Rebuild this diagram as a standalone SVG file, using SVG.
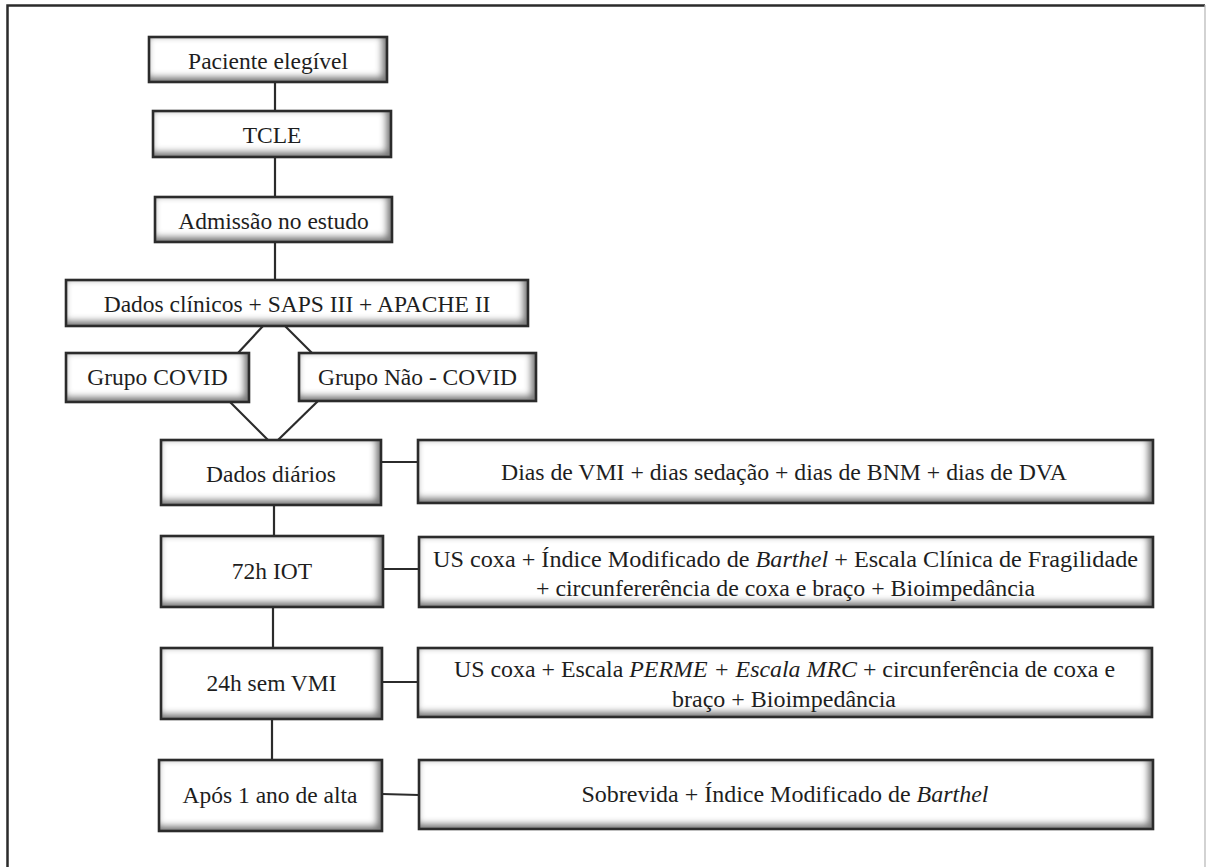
<svg xmlns="http://www.w3.org/2000/svg" width="1206" height="867" viewBox="0 0 1206 867">
<defs>
<filter id="bevel" x="0" y="0" width="1" height="1">
  <feOffset in="SourceAlpha" dx="-6" dy="-6" result="off"/>
  <feGaussianBlur in="off" stdDeviation="3" result="blur"/>
  <feComposite in="SourceAlpha" in2="blur" operator="out" result="edge"/>
  <feFlood flood-color="#7a7a7a"/>
  <feComposite in2="edge" operator="in" result="shade"/>
  <feMerge><feMergeNode in="SourceGraphic"/><feMergeNode in="shade"/></feMerge>
</filter>
</defs>
<style>
  .bg { fill: #ffffff; filter: url(#bevel); }
  .bd { fill: none; stroke: #2b2b2b; stroke-width: 2.6; }
  .t { font-family: "Liberation Serif", "Times New Roman", serif; font-size: 23.5px; fill: #1e1e1e; text-anchor: middle; }
  .r { font-size: 24px; }
  .i { font-style: italic; }
  .c line { stroke: #2b2b2b; stroke-width: 2.2; }
</style>
<rect x="0" y="0" width="1206" height="867" fill="#ffffff"/>
<path d="M7.5 867 V5.5 H1205" fill="none" stroke="#2b2b2b" stroke-width="2.5"/>
<line x1="1205" y1="5" x2="1205" y2="867" stroke="#b5b5b5" stroke-width="1.2"/>

<g id="connectors" class="c">
  <line x1="275" y1="82" x2="275" y2="111"/>
  <line x1="275" y1="157" x2="275" y2="197"/>
  <line x1="275" y1="242" x2="275" y2="280"/>
  <line x1="263" y1="326" x2="238" y2="353"/>
  <line x1="285" y1="326" x2="312" y2="353"/>
  <line x1="230" y1="402" x2="268" y2="440"/>
  <line x1="318" y1="401" x2="278" y2="440"/>
  <line x1="381" y1="462" x2="418" y2="462"/>
  <line x1="274" y1="505" x2="274" y2="536"/>
  <line x1="383" y1="569" x2="419" y2="569"/>
  <line x1="273" y1="607" x2="273" y2="648"/>
  <line x1="382" y1="682" x2="418" y2="682"/>
  <line x1="272" y1="719" x2="272" y2="760"/>
  <line x1="382" y1="794" x2="419" y2="795"/>
</g>

<g id="n-paciente">
  <rect class="bg" x="149" y="37" width="238" height="45"/>
  <rect class="bd" x="149" y="37" width="238" height="45"/>
  <text class="t" x="268" y="69">Paciente elegível</text>
</g>
<g id="n-tcle">
  <rect class="bg" x="153" y="111" width="238" height="46"/>
  <rect class="bd" x="153" y="111" width="238" height="46"/>
  <text class="t" x="272" y="143">TCLE</text>
</g>
<g id="n-admissao">
  <rect class="bg" x="155" y="197" width="237" height="45"/>
  <rect class="bd" x="155" y="197" width="237" height="45"/>
  <text class="t" x="273.5" y="229">Admissão no estudo</text>
</g>
<g id="n-dados-clinicos">
  <rect class="bg" x="66" y="280" width="462" height="46"/>
  <rect class="bd" x="66" y="280" width="462" height="46"/>
  <text class="t" x="297" y="312">Dados clínicos + SAPS III + APACHE II</text>
</g>
<g id="n-covid">
  <rect class="bg" x="66" y="353" width="183" height="49"/>
  <rect class="bd" x="66" y="353" width="183" height="49"/>
  <text class="t" x="157.5" y="385">Grupo COVID</text>
</g>
<g id="n-nao-covid">
  <rect class="bg" x="299" y="353" width="237" height="48"/>
  <rect class="bd" x="299" y="353" width="237" height="48"/>
  <text class="t" x="417.5" y="385">Grupo Não - COVID</text>
</g>
<g id="n-dados-diarios">
  <rect class="bg" x="161" y="440" width="220" height="65"/>
  <rect class="bd" x="161" y="440" width="220" height="65"/>
  <text class="t" x="271" y="482">Dados diários</text>
</g>
<g id="n-dias">
  <rect class="bg" x="418" y="440" width="735" height="63"/>
  <rect class="bd" x="418" y="440" width="735" height="63"/>
  <text class="t r" x="784" y="480" textLength="566" lengthAdjust="spacingAndGlyphs">Dias de VMI + dias sedação + dias de BNM + dias de DVA</text>
</g>
<g id="n-72h">
  <rect class="bg" x="161" y="536" width="222" height="71"/>
  <rect class="bd" x="161" y="536" width="222" height="71"/>
  <text class="t" x="272" y="579">72h IOT</text>
</g>
<g id="n-us1">
  <rect class="bg" x="419" y="537" width="734" height="70"/>
  <rect class="bd" x="419" y="537" width="734" height="70"/>
  <text class="t r" x="785.5" y="567" textLength="705" lengthAdjust="spacingAndGlyphs">US coxa + Índice Modificado de <tspan class="i">Barthel</tspan>  + Escala Clínica de Fragilidade</text>
  <text class="t r" x="785.5" y="596" textLength="499" lengthAdjust="spacingAndGlyphs">+ circunfererência de coxa e braço + Bioimpedância</text>
</g>
<g id="n-24h">
  <rect class="bg" x="161" y="648" width="221" height="71"/>
  <rect class="bd" x="161" y="648" width="221" height="71"/>
  <text class="t" x="271.5" y="691">24h sem VMI</text>
</g>
<g id="n-us2">
  <rect class="bg" x="418" y="648" width="734" height="69"/>
  <rect class="bd" x="418" y="648" width="734" height="69"/>
  <text class="t r" x="784.5" y="677" textLength="661" lengthAdjust="spacingAndGlyphs">US coxa + Escala <tspan class="i">PERME + Escala MRC</tspan> + circunferência de coxa e</text>
  <text class="t r" x="784" y="707" textLength="224" lengthAdjust="spacingAndGlyphs">braço + Bioimpedância</text>
</g>
<g id="n-apos">
  <rect class="bg" x="159" y="760" width="223" height="71"/>
  <rect class="bd" x="159" y="760" width="223" height="71"/>
  <text class="t" x="270" y="803">Após 1 ano de alta</text>
</g>
<g id="n-sobrevida">
  <rect class="bg" x="419" y="760" width="734" height="69"/>
  <rect class="bd" x="419" y="760" width="734" height="69"/>
  <text class="t r" x="785" y="802" textLength="407" lengthAdjust="spacingAndGlyphs">Sobrevida + Índice Modificado de <tspan class="i">Barthel</tspan></text>
</g>
</svg>
